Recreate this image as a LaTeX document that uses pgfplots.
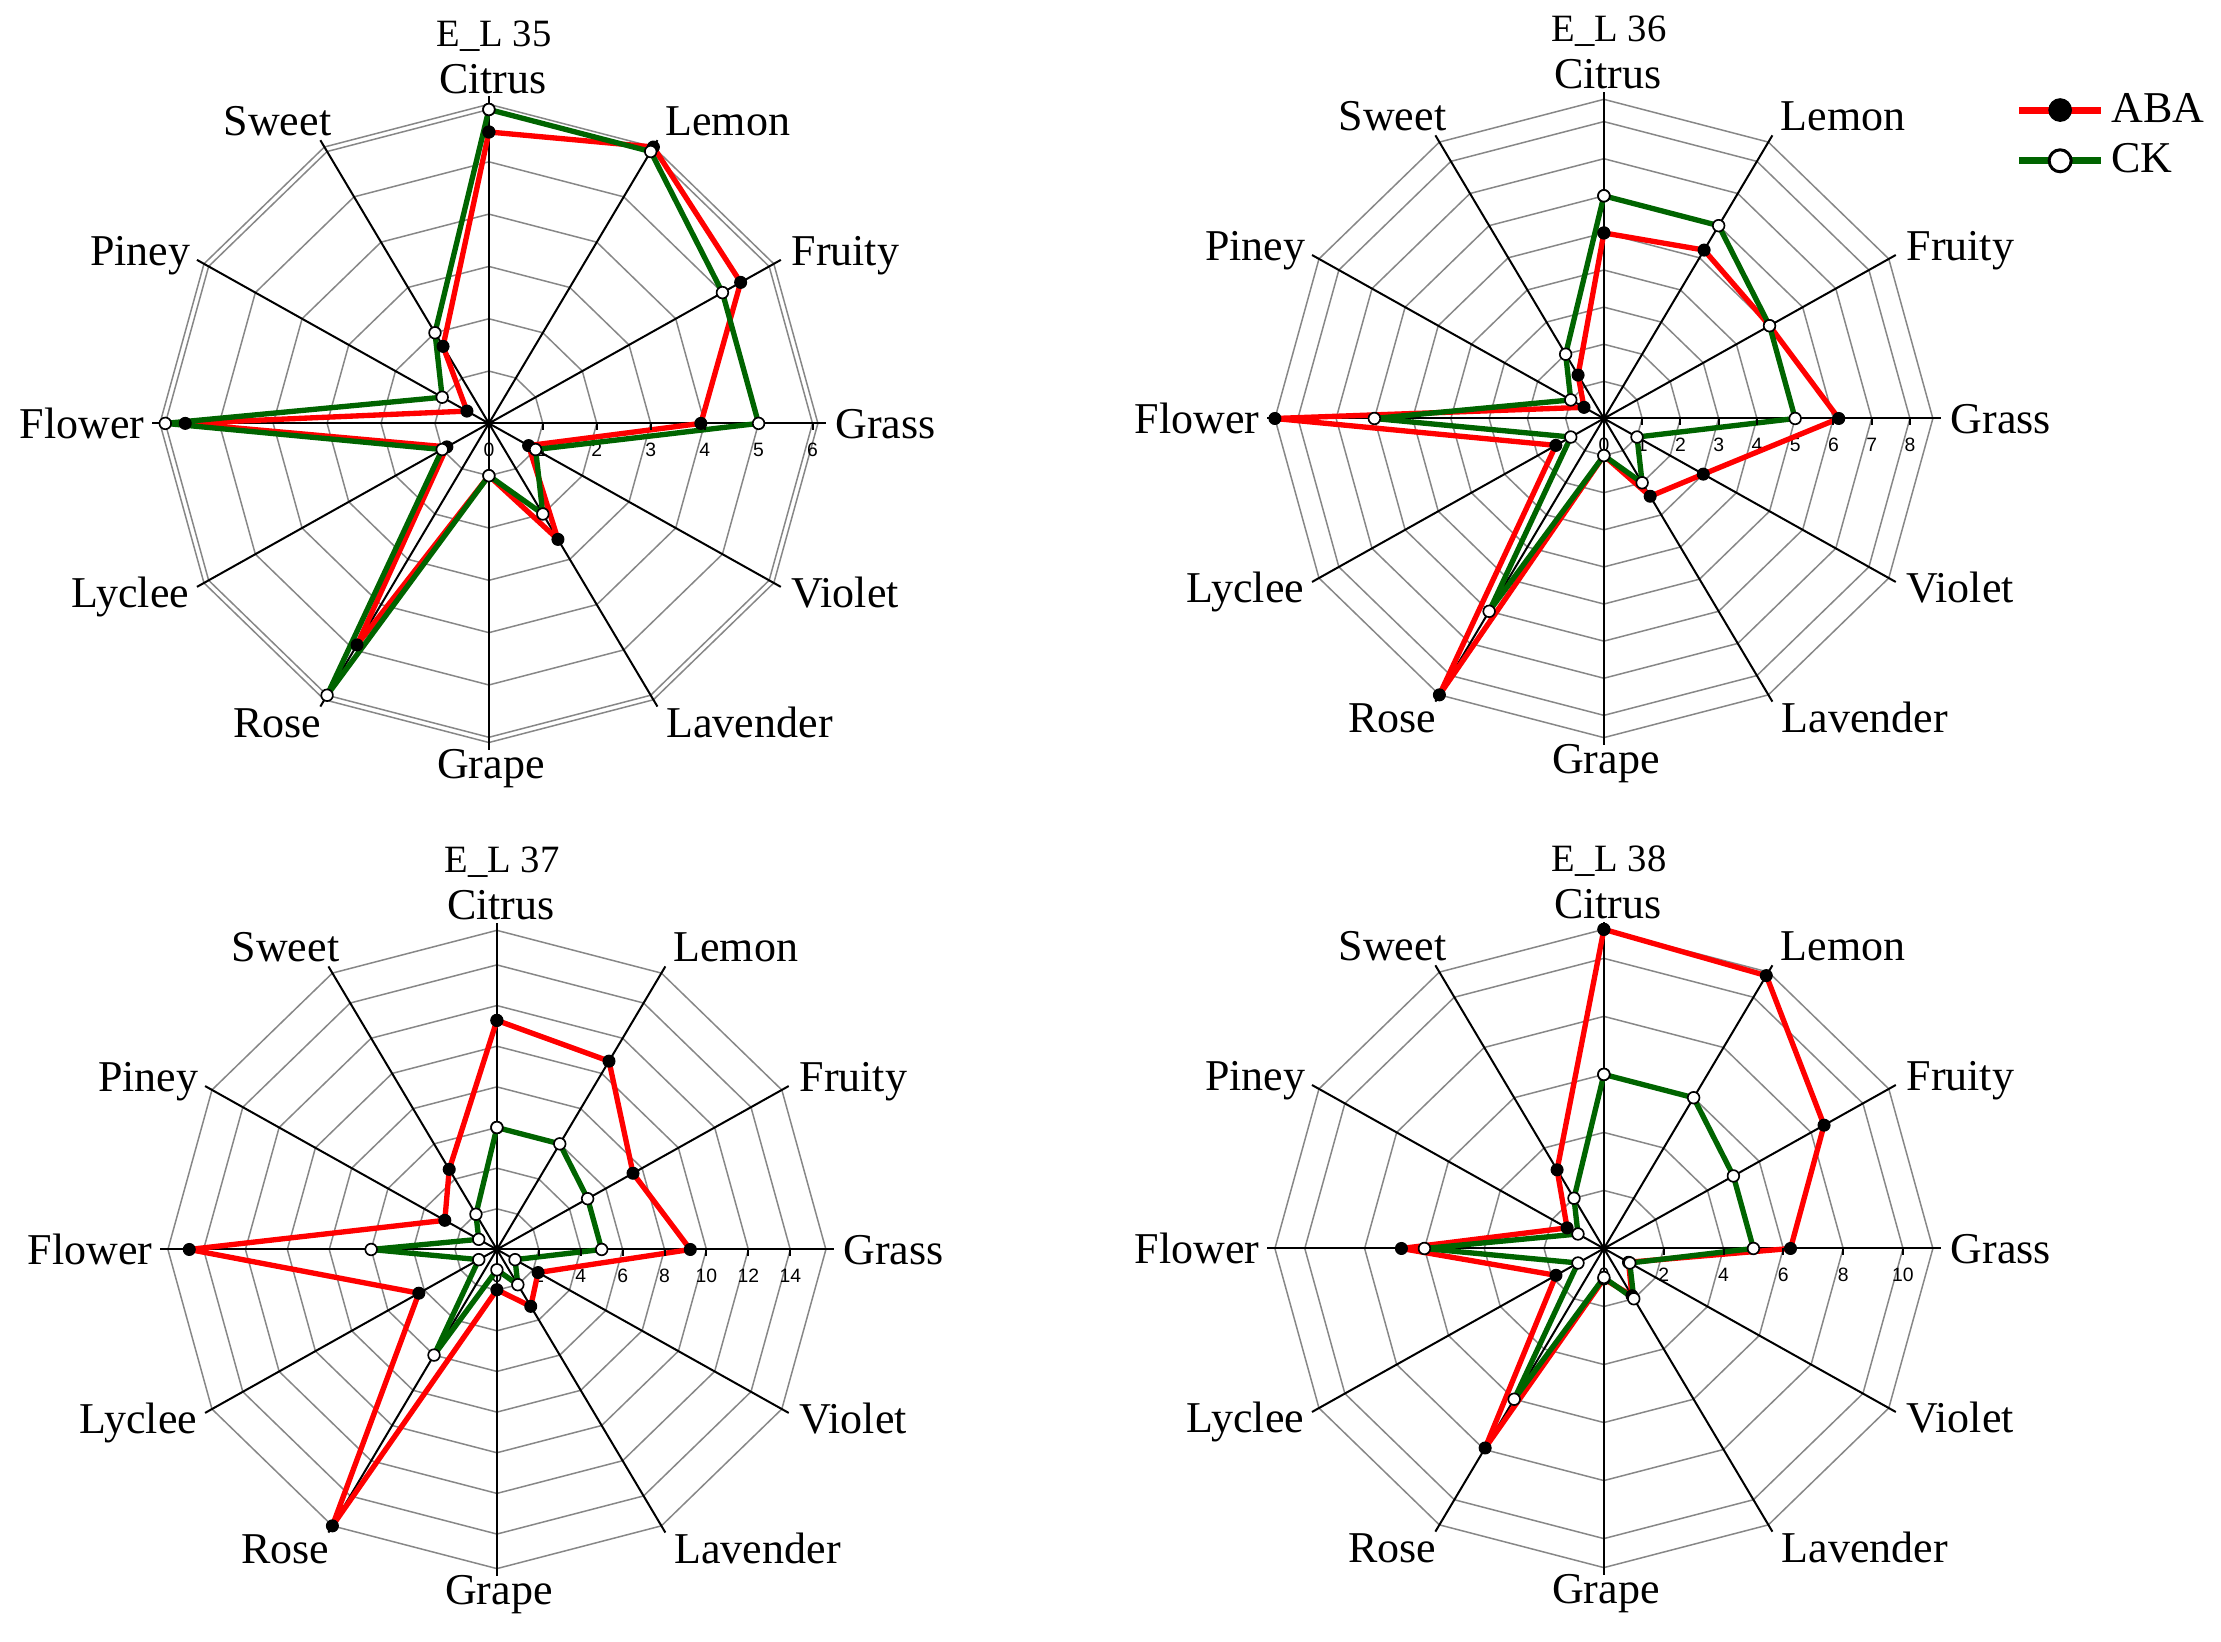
\documentclass[border=0pt]{standalone}
\usepackage{fontspec}
\setmainfont{Liberation Serif}
\newfontfamily\tickfont{Liberation Sans}
\usepackage{pgfplots}
\pgfplotsset{compat=1.18}
\definecolor{abared}{RGB}{255,0,0}
\definecolor{ckgreen}{RGB}{0,100,0}
\definecolor{ringgray}{RGB}{135,135,135}

\pgfplotsset{
  radar/.style={hide axis, scale only axis, clip=false,
    width=217.14pt, height=210.63pt, anchor=center},
  ring/.style={draw=ringgray, line width=0.45pt, data cs=polar, forget plot, mark=none},
  spoke/.style={draw=black, line width=0.6pt, data cs=polar, forget plot, mark=none},
  tickmk/.style={black, only marks, mark=|, mark size=1pt, mark options={yshift=-1pt, line width=0.6pt}, forget plot},
  aba/.style={draw=abared, line width=1.6pt, line join=round, mark=*, mark size=1.8pt,
    mark options={fill=black, draw=black, line width=0.3pt}, data cs=polar, forget plot},
  ck/.style={draw=ckgreen, line width=1.6pt, line join=round, mark=*, mark size=1.75pt,
    mark options={fill=white, draw=black, line width=0.5pt}, data cs=polar, forget plot},
}
\tikzset{
  ticklab/.style={anchor=north, inner sep=0pt, yshift=-5.6pt, font=\tickfont\fontsize{5.8}{6}\selectfont},
  catlab/.style={inner sep=0pt, font=\fontsize{13.2}{15}\selectfont},
}
\newcommand{\panellabels}[3]{%
  \node[catlab, anchor=base, font=\fontsize{11.6}{13}\selectfont] at (#1+5,#2-377) {#3};
  \node[catlab, anchor=base] at (#1+4,#2-330) {Citrus};
  \node[catlab, anchor=base west] at (#1+176,#2-288) {Lemon};
  \node[catlab, anchor=base west] at (#1+302,#2-158) {Fruity};
  \node[catlab, anchor=base west] at (#1+346,#2+15.5) {Grass};
  \node[catlab, anchor=base west] at (#1+302,#2+184) {Violet};
  \node[catlab, anchor=base west] at (#1+177,#2+314) {Lavender};
  \node[catlab, anchor=base] at (#1+2,#2+355) {Grape};
  \node[catlab, anchor=base east] at (#1-167,#2+314) {Rose};
  \node[catlab, anchor=base east] at (#1-299,#2+184) {Lyclee};
  \node[catlab, anchor=base east] at (#1-344,#2+15.5) {Flower};
  \node[catlab, anchor=base east] at (#1-298,#2-158) {Piney};
  \node[catlab, anchor=base east] at (#1-157,#2-288) {Sweet};
}

\begin{document}
\begin{tikzpicture}[x=0.3pt,y=-0.3pt]

% ---------------- E_L 35 ----------------
\begin{axis}[radar, at={(146.67pt,-127.02pt)}, xmin=-6.71, xmax=6.71, ymin=-6.71, ymax=6.71]
\pgfplotsinvokeforeach{1,2,3,4,5,6,6.1}{
  \addplot[ring] coordinates {(0,#1)(30,#1)(60,#1)(90,#1)(120,#1)(150,#1)(180,#1)(210,#1)(240,#1)(270,#1)(300,#1)(330,#1)(360,#1)};}
\pgfplotsinvokeforeach{0,30,60,90,120,150,180,210,240,270,300,330}{
  \addplot[spoke] coordinates {(#1,0)(#1,6.25)};}
\addplot[tickmk] coordinates {(1,0)(2,0)(3,0)(4,0)(5,0)(6,0)};
\pgfplotsinvokeforeach{0,1,2,3,4,5,6}{\node[ticklab] at (axis cs:#1,0) {#1};}
% ABA
\addplot[aba] coordinates {(90,5.57)(60,6.1)(30,5.39)(0,3.93)(-30,0.85)(-60,2.56)(-90,1.0)(-120,4.89)(-150,0.9)(-180,5.63)(-210,0.47)(-240,1.7)(-270,5.57)};
% CK
\addplot[ck] coordinates {(90,6)(60,6)(30,5)(0,5)(-30,1)(-60,2)(-90,1)(-120,6)(-150,1)(-180,6)(-210,1)(-240,2)(-270,6)};
\end{axis}

% ---------------- E_L 36 ----------------
\begin{axis}[radar, at={(481.17pt,-125.55pt)}, xmin=-9.46, xmax=9.46, ymin=-9.46, ymax=9.46,
  legend style={at={(1.068,0.974)}, anchor=north west, draw=none, fill=none, inner sep=0pt,
    font=\fontsize{13.2}{15}\selectfont, row sep=1pt},
  legend cell align=left,
  legend image code/.code={\draw[mark repeat=2, mark phase=2, #1] plot coordinates {(0pt,0pt) (12.3pt,0pt) (24.6pt,0pt)};}]
\addlegendimage{draw=abared, line width=2.1pt, mark=*, mark size=3.4pt, mark options={fill=black, draw=black, line width=0.3pt}}
\addlegendentry{ABA}
\addlegendimage{draw=ckgreen, line width=2.1pt, mark=*, mark size=3.3pt, mark options={fill=white, draw=black, line width=0.9pt}}
\addlegendentry{CK}
\pgfplotsinvokeforeach{1,2,3,4,5,6,7,8,8.6}{
  \addplot[ring] coordinates {(0,#1)(30,#1)(60,#1)(90,#1)(120,#1)(150,#1)(180,#1)(210,#1)(240,#1)(270,#1)(300,#1)(330,#1)(360,#1)};}
\pgfplotsinvokeforeach{0,30,60,90,120,150,180,210,240,270,300,330}{
  \addplot[spoke] coordinates {(#1,0)(#1,8.81)};}
\addplot[tickmk] coordinates {(1,0)(2,0)(3,0)(4,0)(5,0)(6,0)(7,0)(8,0)};
\pgfplotsinvokeforeach{0,1,2,3,4,5,6,7,8}{\node[ticklab] at (axis cs:#1,0) {#1};}
\addplot[aba] coordinates {(90,5.0)(60,5.24)(30,5.0)(0,6.14)(-30,3.0)(-60,2.42)(-90,1.0)(-120,8.6)(-150,1.45)(-180,8.6)(-210,0.6)(-240,1.35)(-270,5.0)};
\addplot[ck] coordinates {(90,6)(60,6)(30,5)(0,5)(-30,1)(-60,2)(-90,1)(-120,6)(-150,1)(-180,6)(-210,1)(-240,2)(-270,6)};
\end{axis}

% ---------------- E_L 37 ----------------
\begin{axis}[radar, at={(149.07pt,-374.85pt)}, xmin=-17.27, xmax=17.27, ymin=-17.27, ymax=17.27]
\pgfplotsinvokeforeach{2,4,6,8,10,12,14,15.7}{
  \addplot[ring] coordinates {(0,#1)(30,#1)(60,#1)(90,#1)(120,#1)(150,#1)(180,#1)(210,#1)(240,#1)(270,#1)(300,#1)(330,#1)(360,#1)};}
\pgfplotsinvokeforeach{0,30,60,90,120,150,180,210,240,270,300,330}{
  \addplot[spoke] coordinates {(#1,0)(#1,16.08)};}
\addplot[tickmk] coordinates {(2,0)(4,0)(6,0)(8,0)(10,0)(12,0)(14,0)};
\pgfplotsinvokeforeach{0,2,4,6,8,10,12,14}{\node[ticklab] at (axis cs:#1,0) {#1};}
\addplot[aba] coordinates {(90,11.27)(60,10.7)(30,7.5)(0,9.23)(-30,2.27)(-60,3.23)(-90,1.98)(-120,15.7)(-150,4.3)(-180,14.68)(-210,2.87)(-240,4.55)(-270,11.27)};
\addplot[ck] coordinates {(90,6)(60,6)(30,5)(0,5)(-30,1)(-60,2)(-90,1)(-120,6)(-150,1)(-180,6)(-210,1)(-240,2)(-270,6)};
\end{axis}

% ---------------- E_L 38 ----------------
\begin{axis}[radar, at={(481.17pt,-374.55pt)}, xmin=-12.1, xmax=12.1, ymin=-12.1, ymax=12.1]
\pgfplotsinvokeforeach{2,4,6,8,10,11}{
  \addplot[ring] coordinates {(0,#1)(30,#1)(60,#1)(90,#1)(120,#1)(150,#1)(180,#1)(210,#1)(240,#1)(270,#1)(300,#1)(330,#1)(360,#1)};}
\pgfplotsinvokeforeach{0,30,60,90,120,150,180,210,240,270,300,330}{
  \addplot[spoke] coordinates {(#1,0)(#1,11.27)};}
\addplot[tickmk] coordinates {(2,0)(4,0)(6,0)(8,0)(10,0)};
\pgfplotsinvokeforeach{0,2,4,6,8,10}{\node[ticklab] at (axis cs:#1,0) {#1};}
\addplot[aba] coordinates {(90,11.0)(60,10.86)(30,8.5)(0,6.24)(-30,0.95)(-60,1.88)(-90,1.05)(-120,7.94)(-150,1.85)(-180,6.77)(-210,1.42)(-240,3.13)(-270,11.0)};
\addplot[ck] coordinates {(90,6)(60,6)(30,5)(0,5)(-30,1)(-60,2)(-90,1)(-120,6)(-150,1)(-180,6)(-210,1)(-240,2)(-270,6)};
\end{axis}

\panellabels{488.9}{423.4}{E\_L 35}
\panellabels{1603.9}{418.5}{E\_L 36}
\panellabels{496.9}{1249.5}{E\_L 37}
\panellabels{1603.9}{1248.5}{E\_L 38}

\pgfresetboundingbox
\path[use as bounding box] (0,0) rectangle (2221,1642);
\end{tikzpicture}
\end{document}
